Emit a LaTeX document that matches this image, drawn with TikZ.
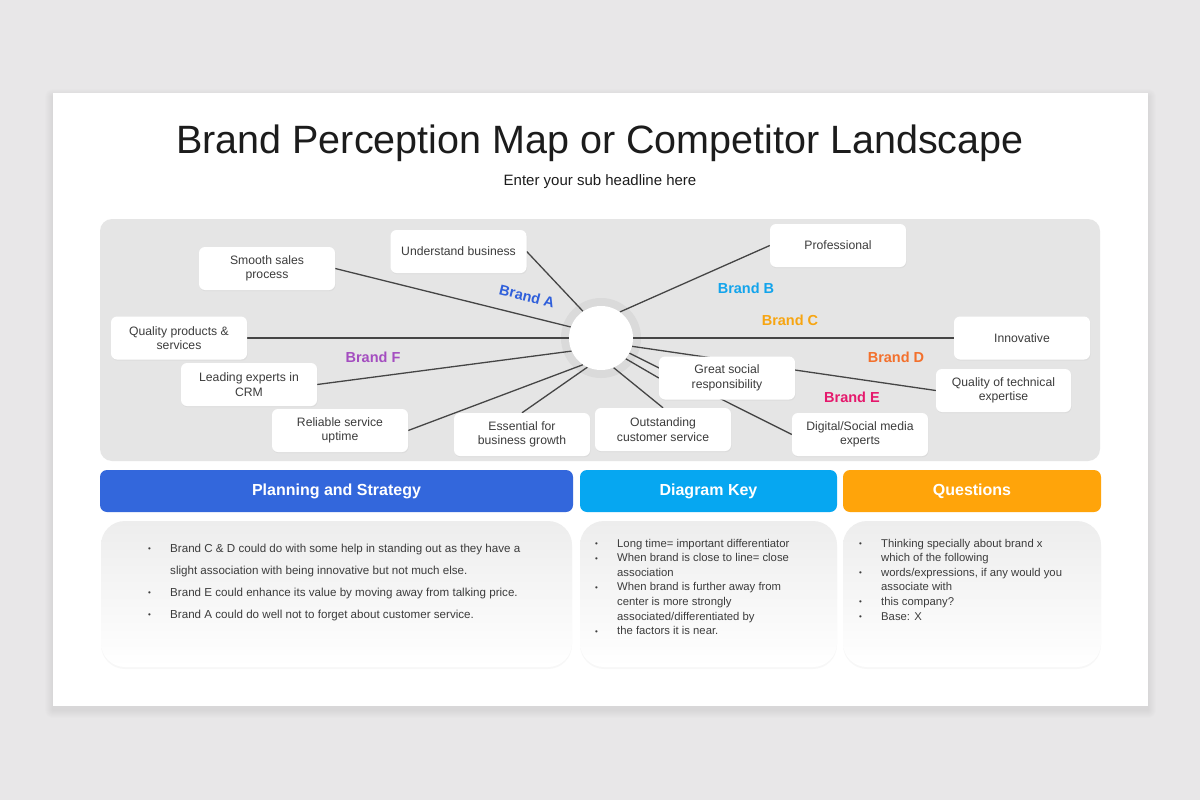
\documentclass[tikz,border=0pt]{standalone}
\usepackage{fontspec}
\setmainfont{Liberation Sans}
\usetikzlibrary{shadows}
\pgfdeclarelayer{bg}\pgfdeclarelayer{lines}
\pgfsetlayers{bg,lines,main}
\definecolor{pagebg}{HTML}{E8E7E8}
\definecolor{panelgray}{HTML}{E5E5E5}
\definecolor{halo}{HTML}{DADADA}
\definecolor{txt}{HTML}{3C3C3C}
\definecolor{linec}{HTML}{454545}
\definecolor{titlec}{HTML}{1C1C1C}
\definecolor{brA}{HTML}{2F5FDB}
\definecolor{brB}{HTML}{12A4EC}
\definecolor{brC}{HTML}{F7A511}
\definecolor{brD}{HTML}{F3702C}
\definecolor{brE}{HTML}{E5186C}
\definecolor{brF}{HTML}{A44DC0}
\definecolor{hdA}{HTML}{3367DC}
\definecolor{hdB}{HTML}{06A7F1}
\definecolor{hdC}{HTML}{FFA40A}
\definecolor{panelTop}{HTML}{EDEDED}
\begin{document}
\begin{tikzpicture}[x=1pt,y=-1pt,
  word/.style={fill=white, rounded corners=6pt, minimum width=136pt, minimum height=43pt,
    align=center, inner sep=2pt, font=\fontsize{12.2}{14.5}\selectfont, text=txt,
    drop shadow={opacity=0.08, shadow xshift=0.6pt, shadow yshift=-1.2pt}},
  spoke/.style={draw=linec, line width=1.3pt},
  brand/.style={font=\fontsize{14.5}{16}\selectfont\bfseries},
  hdr/.style={rounded corners=7pt, minimum height=42pt, text=white,
    font=\fontsize{16}{18}\selectfont\bfseries},
  panel/.style={rounded corners=24pt, top color=panelTop, bottom color=white,
    minimum height=146pt, drop shadow={opacity=0.06, shadow xshift=0pt, shadow yshift=-2pt}},
  bul/.style={anchor=base west, inner sep=0pt, text=txt}
]
\useasboundingbox (0,0) rectangle (1200,800);
\begin{pgfonlayer}{bg}
  \fill[pagebg] (0,0) rectangle (1200,800);
  \foreach \i in {1,...,8} {\fill[black,opacity=0.007, rounded corners=\i pt] (53-\i,93-\i+4) rectangle (1148+\i,706+\i+4);}
  \fill[white] (53,93) rectangle (1148,706);
  \fill[panelgray, rounded corners=12pt] (100,219) rectangle (1100,461);
  \fill[halo] (601,338) circle (40pt);
\end{pgfonlayer}

% title
\node[text=titlec, font=\fontsize{39.5}{44}\selectfont] (title) at (600,143) {Brand Perception Map or Competitor Landscape};
\node[text=titlec, font=\fontsize{15}{18}\selectfont] (sub) at (600,182) {Enter your sub headline here};

% centre
\node[circle, fill=white, minimum size=64pt, inner sep=0pt] (c) at (601,338) {};

% word boxes
\node[word] (sm) at (267,268.5) {Smooth sales\\process};
\node[word] (ub) at (458.5,251.5) {Understand business};
\node[word] (pr) at (838,245.5) {Professional};
\node[word] (qp) at (179,338) {Quality products \&\\services};
\node[word] (inn) at (1022,338) {Innovative};
\node[word] (le) at (249,384.5) {Leading experts in\\CRM};
\node[word] (gs) at (727,378) {Great social\\responsibility};
\node[word, minimum width=135pt] (qt) at (1003.5,390.5) {Quality of technical\\expertise};
\node[word] (re) at (340,430.5) {Reliable service\\uptime};
\node[word] (es) at (522,434.5) {Essential for\\business growth};
\node[word] (os) at (663,429.5) {Outstanding\\customer service};
\node[word] (di) at (860,434.5) {Digital/Social media\\experts};

% spokes
\begin{pgfonlayer}{lines}
  \draw[spoke] (c.160) -- (sm.east);
  \draw[spoke] (c.124) -- (ub.east);
  \draw[spoke] (c.54) -- (pr.west);
  \draw[spoke] (c.180) -- (qp.east);
  \draw[spoke] (c.0) -- (inn.west);
  \draw[spoke] (c.204) -- (le.east);
  \draw[spoke] (c.236) -- (re.east);
  \draw[spoke] (c.245) -- (es.north);
  \draw[spoke] (c.293) -- (os.north);
  \draw[spoke] (c.320) -- (gs.west);
  \draw[spoke] (c.332) -- (di.west);
  \draw[spoke] (c.345) -- (qt.west);
\end{pgfonlayer}

% brand labels
\node[brand, text=brA, rotate=-14, inner sep=0pt] (bA) at (527,296) {Brand A};
\node[brand, text=brB] (bB) at (746,288) {Brand B};
\node[brand, text=brC] (bC) at (790,320) {Brand C};
\node[brand, text=brD] (bD) at (896,357) {Brand D};
\node[brand, text=brE] (bE) at (852,397) {Brand E};
\node[brand, text=brF] (bF) at (373,357) {Brand F};

% headers
\node[hdr, fill=hdA, minimum width=473pt] (h1) at (336.5,491) {Planning and Strategy};
\node[hdr, fill=hdB, minimum width=257pt] (h2) at (708.5,491) {Diagram Key};
\node[hdr, fill=hdC, minimum width=258pt] (h3) at (972,491) {Questions};

% panels
\node[panel, minimum width=471pt] (p1) at (336.5,594) {};
\node[panel, minimum width=257pt] (p2) at (708.5,594) {};
\node[panel, minimum width=258pt] (p3) at (972,594) {};

\newcommand{\bdot}{{\fontsize{8}{8}\selectfont\raisebox{0.5pt}{•}}}
\node[bul, font=\fontsize{11.6}{22}\selectfont] (t1) at (148,552) {%
\begin{tabular}[t]{@{}p{22pt}@{}l@{}}
\bdot & Brand C \& D could do with some help in standing out as they have a\\
      & slight association with being innovative but not much else.\\
\bdot & Brand E could enhance its value by moving away from talking price.\\
\bdot & Brand A could do well not to forget about customer service.
\end{tabular}};

\node[bul, font=\fontsize{11.3}{14.6}\selectfont] (t2) at (595,547) {%
\begin{tabular}[t]{@{}p{22pt}@{}l@{}}
\bdot & Long time= important differentiator\\
\bdot & When brand is close to line= close\\
      & association\\
\bdot & When brand is further away from\\
      & center  is more strongly\\
      & associated/differentiated  by\\
\bdot & the factors it is near.
\end{tabular}};

\node[bul, font=\fontsize{11.3}{14.6}\selectfont] (t3) at (859,547) {%
\begin{tabular}[t]{@{}p{22pt}@{}l@{}}
\bdot & Thinking specially about brand x\\
      & which of the following\\
\bdot & words/expressions, if any would you\\
      & associate with\\
\bdot & this company?\\
\bdot & Base: X
\end{tabular}};
\end{tikzpicture}
\end{document}
